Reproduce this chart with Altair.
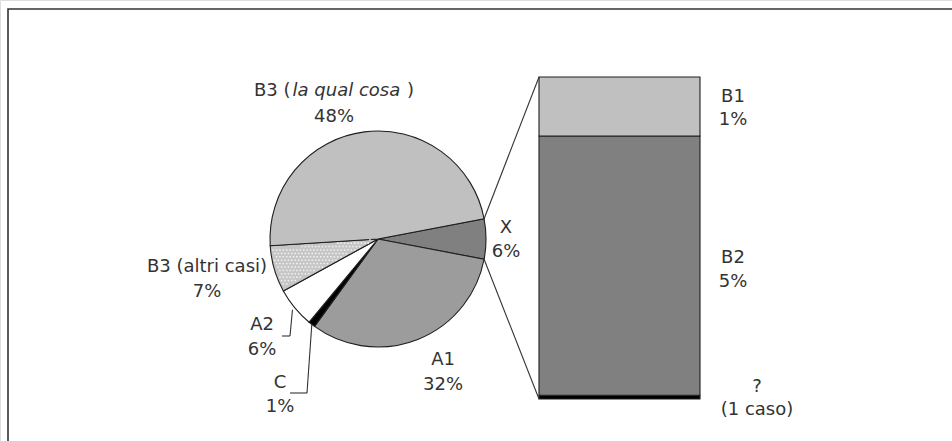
import math
import altair as alt
import pandas as pd

# ---------------- data ----------------
pie_cats = ["X", "A1", "C", "A2", "B3 (altri casi)", "B3 (la qual cosa)"]
pie_vals = [6, 32, 1, 6, 7, 48]

bar_cats = ["?", "B2", "B1"]          # bottom -> top
bar_vals = [0.07, 4.83, 1.1]          # share of the X slice (%)

# label texts (line 1 / line 2)
lbl_b3_main = ["B3 (", "la qual cosa", ")", "48%"]
lbl_x = ["X", "6%"]
lbl_b3_altri = ["B3 (altri casi)", "7%"]
lbl_a2 = ["A2", "6%"]
lbl_c = ["C", "1%"]
lbl_a1 = ["A1", "32%"]
lbl_b1 = ["B1", "1%"]
lbl_b2 = ["B2", "5%"]
lbl_q = ["?", "(1 caso)"]

# ---------------- styles / layout ----------------
pie_colors = ["#808080", "#9c9c9c", "#000000", "#ffffff", "#c6c6c6", "#c0c0c0"]
bar_colors = ["#000000", "#808080", "#c0c0c0"]
FONT = "DejaVu Sans"
FS = 18
TXT = "#333333"
CX, CY, R = 378, 239, 108
START = math.radians(79.2)
BX0, BX1, BY_TOP, BY_BOT = 539, 700, 77, 399

total_pie = sum(pie_vals)


def ang(cum):
    return START + cum / total_pie * 2 * math.pi


def pt(a, r=R):
    return CX + r * math.sin(a), CY - r * math.cos(a)


cum = [sum(pie_vals[:i]) for i in range(len(pie_vals))]
x_a0, x_a1 = ang(cum[0]), ang(cum[0] + pie_vals[0])
b3a_i = pie_cats.index("B3 (altri casi)")
b3a_s, b3a_e = ang(cum[b3a_i]), ang(cum[b3a_i] + pie_vals[b3a_i])
a2_i = pie_cats.index("A2")
c_i = pie_cats.index("C")
a2_mid = ang(cum[a2_i] + pie_vals[a2_i] / 2)
c_mid = ang(cum[c_i] + pie_vals[c_i] / 2)

# ---------------- frame ----------------
frame = alt.Chart(alt.Data(values=[{}])).mark_rect(
    fillOpacity=0, stroke="#333333", strokeWidth=1.6
).encode(x=alt.value(8), y=alt.value(9), x2=alt.value(980), y2=alt.value(480))

# ---------------- pie ----------------
pie_df = pd.DataFrame({"cat": pie_cats, "value": pie_vals, "ord": list(range(len(pie_cats)))})
pie = alt.Chart(pie_df).mark_arc(radius=R, stroke="#1e1e1e", strokeWidth=1.1).encode(
    theta=alt.Theta("value:Q", stack=True,
                    scale=alt.Scale(domain=[0, total_pie], range=[START, START + 2 * math.pi])),
    order=alt.Order("ord:Q"),
    color=alt.Color("cat:N", scale=alt.Scale(domain=pie_cats, range=pie_colors), legend=None),
    x=alt.value(CX), y=alt.value(CY),
)

# dotted texture on "B3 (altri casi)"
NC, NR, SP = 36, 28, 3.4
dots = alt.Chart(alt.sequence(0, NC * NR)).transform_calculate(
    col=f"datum.data % {NC}",
    row=f"floor(datum.data / {NC})",
).transform_calculate(
    gx=f"{CX - R - 2} + datum.col * {SP} + (datum.row % 2) * {SP / 2}",
    gy=f"{CY - 6} + datum.row * {SP}",
).transform_calculate(
    dx=f"datum.gx - {CX}", dy=f"datum.gy - {CY}",
).transform_calculate(
    rr="sqrt(datum.dx * datum.dx + datum.dy * datum.dy)",
    a0="atan2(datum.dx, -datum.dy)",
).transform_calculate(
    aa="datum.a0 < 0 ? datum.a0 + 2 * PI : datum.a0",
).transform_filter(
    f"datum.rr < {R - 2.5} && datum.rr > 8 && datum.aa > {b3a_s + 0.035} && datum.aa < {b3a_e - 0.035}"
).mark_square(size=2.2, color="#ffffff", opacity=0.8).encode(
    x=alt.X("gx:Q", scale=None, axis=None),
    y=alt.Y("gy:Q", scale=None, axis=None),
)

# ---------------- bar of X ----------------
bar_df = pd.DataFrame({"cat": bar_cats, "value": bar_vals, "ord": list(range(len(bar_cats)))})
bar = alt.Chart(bar_df).transform_window(
    top="sum(value)", sort=[alt.SortField("ord")], frame=[None, 0]
).transform_calculate(
    bot="datum.top - datum.value"
).mark_rect(stroke="#1e1e1e", strokeWidth=1.1).encode(
    x=alt.value(BX0), x2=alt.value(BX1),
    y=alt.Y("bot:Q", axis=None,
            scale=alt.Scale(domain=[0, sum(bar_vals)], range=[BY_BOT, BY_TOP], nice=False, zero=False)),
    y2="top:Q",
    color=alt.Color("cat:N", scale=alt.Scale(domain=bar_cats, range=bar_colors), legend=None),
)

# ---------------- connector and leader segments ----------------
p0 = pt(x_a0)
p1 = pt(x_a1)
a2_end = pt(a2_mid, 111)
c_end = pt(c_mid, 108)
segs = [
    (p0[0], p0[1], BX0, BY_TOP),
    (p1[0], p1[1], BX0, BY_BOT),
    (282, 336, 290, 336),
    (290, 336, a2_end[0], a2_end[1]),
    (290, 393, 307, 393),
    (307, 393, c_end[0], c_end[1]),
]
seg_df = pd.DataFrame(segs, columns=["x1", "y1", "x2", "y2"])
lines = alt.Chart(seg_df).mark_rule(color="#333333", strokeWidth=1.1).encode(
    x=alt.X("x1:Q", scale=None, axis=None), y=alt.Y("y1:Q", scale=None, axis=None),
    x2="x2:Q", y2="y2:Q",
)

# ---------------- labels ----------------
def two(lines_, x, y1, y2):
    return [(lines_[0], x, y1), (lines_[1], x, y2)]

rows = [(lbl_b3_main[3], 334, 117)]
rows += two(lbl_x, 506, 228, 252)
rows += two(lbl_b3_altri, 207, 267, 292)
rows += two(lbl_a2, 262, 325, 350)
rows += two(lbl_c, 280, 383, 407)
rows += two(lbl_a1, 443, 360, 385)
rows += two(lbl_b1, 733, 97, 120)
rows += two(lbl_b2, 733, 258, 282)
rows += two(lbl_q, 757, 387, 410)
lab_df = pd.DataFrame(rows, columns=["t", "px", "py"])
labels = alt.Chart(lab_df).mark_text(
    font=FONT, fontSize=FS, color=TXT, align="center", baseline="middle"
).encode(
    x=alt.X("px:Q", scale=None, axis=None), y=alt.Y("py:Q", scale=None, axis=None), text="t:N"
)

# mixed upright / italic first line of the B3 label
W = {"B": .686, "3": .636, " ": .318, "(": .390, ")": .390, "l": .278, "a": .613,
     "q": .635, "u": .634, "c": .550, "o": .612, "s": .521}
def width(s):
    return sum(W.get(ch, .6) for ch in s) * FS
parts = lbl_b3_main[:3]
gaps = [2, width(" ") + 1, 0]
tot = sum(width(p) for p in parts) + sum(gaps)
xc = 334 - tot / 2
mix = []
for i, p in enumerate(parts):
    mix.append((p, xc, "italic" if i == 1 else "normal"))
    xc += width(p) + gaps[i]
mix_layers = [
    alt.Chart(alt.Data(values=[{"t": p}])).mark_text(
        font=FONT, fontSize=FS, color=TXT, align="left", baseline="middle", fontStyle=st
    ).encode(x=alt.value(xx), y=alt.value(91), text="t:N")
    for p, xx, st in mix
]

chart = alt.layer(frame, pie, dots, bar, lines, labels, *mix_layers).resolve_scale(
    x="independent", y="independent", color="independent", theta="independent"
).properties(
    width=952, height=441, padding=0, autosize=alt.AutoSizeParams(type="none")
).configure_view(stroke=None).configure(background="#ffffff")

chart.save("out.html", embed_options={"renderer": "svg", "actions": False})
